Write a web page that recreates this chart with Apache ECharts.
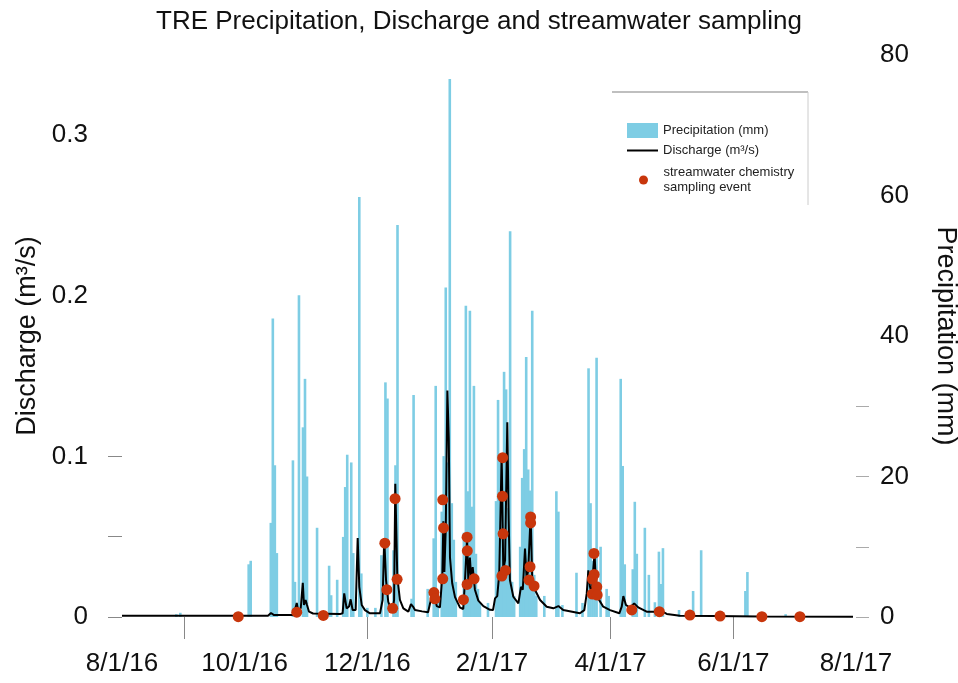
<!DOCTYPE html>
<html>
<head>
<meta charset="utf-8">
<title>TRE Precipitation, Discharge and streamwater sampling</title>
<script src="https://cdn.jsdelivr.net/npm/echarts@6/dist/echarts.min.js"></script>
<style>
    html, body { margin: 0; padding: 0; background: #fff; }
    #chart { width: 958px; height: 683px; }
</style>
</head>
<body>
<div id="chart"></div>
<script>
// days counted from 8/1/16
const precipDays = [27, 29, 63, 64, 74, 75, 76, 77, 85, 86, 88, 90, 91, 92, 97, 103, 104, 107,
    110, 111, 112, 114, 115, 118, 119, 122, 126, 129, 131, 132, 135, 136, 137, 144, 145, 152,
    155, 156, 157, 159, 160, 161, 162, 163, 164, 165, 166, 170, 171, 172, 173, 174, 175, 176,
    177, 178, 182, 186, 187, 188, 189, 190, 191, 192, 193, 194, 195, 198, 199, 200, 201, 202,
    203, 204, 205, 206, 210, 216, 217, 219, 226, 229, 232, 233, 234, 235, 236, 238, 241, 242,
    248, 249, 250, 254, 255, 256, 260, 262, 265, 267, 268, 269, 277, 284, 288, 310, 311, 330];
const precipMm = [0.4, 0.6, 7.5, 8, 13.4, 42.5, 21.6, 9.1, 22.3, 5, 45.8, 27, 33.9, 20, 12.7, 7.3, 3.1, 5.3,
    11.4, 18.5, 23.1, 22, 9.1, 59.8, 6.2, 1.3, 1.3, 8.8, 33.4, 31.1, 9.5, 21.6, 55.8, 2.6, 31.6, 4,
    11.2, 32.9, 3, 15, 22.9, 46.9, 22, 76.6, 16.2, 11, 5, 12, 44.3, 17.9, 43.6, 15.7, 32.9, 9,
    4, 2, 2, 16.5, 30.9, 22.9, 21, 34.9, 32.4, 15.5, 54.9, 5, 3, 10, 19.8, 23.9, 37, 21,
    18, 43.6, 6, 3, 3, 17.9, 15, 1.7, 6.3, 2, 35.4, 16.2, 8, 6, 36.9, 10, 4, 3,
    33.9, 21.5, 7.5, 6.8, 16.4, 9, 12.7, 6, 2.1, 9.3, 4.7, 9.8, 1, 3.7, 9.5, 3.7, 6.4, 0.4];

const flowDays = [0, 72.6, 74.1, 75.6, 85, 86, 86.9, 87.7, 88.9, 89.9, 90.5, 91.3, 92, 93, 95,
    108.4, 109.7, 110.5, 111.7, 112.9, 113.7, 114.7, 116.2, 117.2, 118, 119.2, 120.8, 123.3,
    128.3, 129.6, 130.4, 131.3, 132.4, 133.6, 134.6, 135.3, 135.9, 136.9, 138.2, 139.9, 142.4,
    143.7, 144.7, 145.7, 149.2, 152.2, 153.7, 154.8, 155.6, 156.5, 158.1, 159.3, 159.8, 160.3,
    161, 161.8, 162.5, 163.1, 164.2, 165.6, 168.1, 169.7, 170.6, 171.6, 172.2, 173, 173.7,
    174.4, 175.5, 177.2, 179.7, 183, 184.5, 185.5, 186.6, 187.6, 188.8, 189.6, 190.5, 191.6,
    192.3, 192.9, 194.6, 197.1, 198.4, 199.3, 200.4, 201.2, 202, 203.2, 204, 205.4, 207.9,
    211.2, 214.5, 217, 219.4, 227.7, 229.9, 231.1, 231.9, 232.7, 233.6, 234.3, 235, 235.7,
    236.8, 239.3, 242.7, 247.3, 248.5, 249.3, 250.6, 252.6, 254.7, 256.7, 260.9, 266, 267.2,
    268.5, 270.9, 277.5, 293.9, 317.3, 363.5];
const flowM3s = [0.0008, 0.0008, 0.0025, 0.0012, 0.0012, 0.0043, 0.0087, 0.0033, 0.0056, 0.0213, 0.0075, 0.0106, 0.0075, 0.0033, 0.0022,
    0.0018, 0.0023, 0.0147, 0.0054, 0.0065, 0.011, 0.0043, 0.0043, 0.0492, 0.0188, 0.0075, 0.0043, 0.0023,
    0.0023, 0.0106, 0.049, 0.023, 0.0095, 0.0054, 0.0043, 0.0106, 0.083, 0.025, 0.0106, 0.0054, 0.0033,
    0.008, 0.0065, 0.0043, 0.0035, 0.003, 0.0114, 0.017, 0.0124, 0.0068, 0.006, 0.026, 0.0596, 0.028,
    0.055, 0.141, 0.111, 0.037, 0.021, 0.0124, 0.0058, 0.005, 0.0236, 0.049, 0.023, 0.037, 0.023,
    0.031, 0.017, 0.0102, 0.0068, 0.0045, 0.0043, 0.0116, 0.013, 0.027, 0.1017, 0.029, 0.0354, 0.1213,
    0.06, 0.023, 0.0126, 0.0085, 0.0188, 0.017, 0.0427, 0.024, 0.029, 0.0634, 0.023, 0.0168, 0.0106,
    0.0064, 0.0054, 0.0068, 0.0043, 0.0023, 0.0043, 0.0147, 0.029, 0.019, 0.0147, 0.029, 0.0396, 0.019,
    0.0116, 0.0064, 0.0043, 0.0023, 0.0065, 0.013, 0.0075, 0.0058, 0.0085, 0.006, 0.0033, 0.0033, 0.0045,
    0.0035, 0.0019, 0.0008, 0.0006, 0.0003, 0.0002];

// streamwater chemistry sampling events
const sampleDays = [57.8, 86.9, 100.1, 130.7, 131.7, 134.6, 135.8, 136.8, 155.1, 155.6, 159.5, 159.9,
    159.5, 169.8, 171.6, 171.7, 171.6, 175.1, 189.3, 189.2, 189.5, 188.9, 190.7, 203.2, 203.2,
    202.9, 202.4, 204.9, 234.7, 234.8, 233.9, 236.1, 233.9, 236.3, 253.5, 267.2, 282.4, 297.4,
    318.2, 337.1];
const sampleM3s = [0.0002, 0.003, 0.001, 0.046, 0.017, 0.0054, 0.0737, 0.0235, 0.0152, 0.0113, 0.073, 0.0555,
    0.0238, 0.0108, 0.0497, 0.0412, 0.0203, 0.0238, 0.0992, 0.0752, 0.0518, 0.0255, 0.029, 0.0623, 0.0586,
    0.0313, 0.023, 0.0193, 0.0396, 0.0265, 0.0236, 0.0188, 0.0143, 0.0137, 0.0044, 0.0033, 0.0012, 0.0006,
    0.0002, 0.0002];

const xLabelDates = [[2016, 8, 1], [2016, 10, 1], [2016, 12, 1], [2017, 2, 1], [2017, 4, 1], [2017, 6, 1], [2017, 8, 1]];
const xTickDates = [[2016, 9, 1], [2016, 12, 1], [2017, 2, 1], [2017, 4, 1], [2017, 6, 1]];
const dischargeTicks = [0, 0.1, 0.2, 0.3];
const precipTicks = [0, 20, 40, 60, 80];

const START = new Date(2016, 7, 1).getTime();
const DAY = 86400000;

function toTime(d) {
    return START + d * DAY;
}
function ymd(a) {
    return new Date(a[0], a[1] - 1, a[2]).getTime();
}

document.addEventListener('DOMContentLoaded', function () {

    let chart = echarts.init(document.getElementById('chart'), null, { renderer: 'canvas' });
    const font = 'Liberation Sans, Arial, sans-serif';

    let precipData = precipDays.map((d, i) => [toTime(d), precipMm[i]]);
    let flowData = flowDays.map((d, i) => [toTime(d), flowM3s[i]]);
    let sampleData = sampleDays.map((d, i) => [toTime(d), sampleM3s[i]]);

    chart.setOption({
        animation: false,
        backgroundColor: '#fff',
        textStyle: { fontFamily: font },
        title: {
            text: 'TRE Precipitation, Discharge and streamwater sampling',
            left: 'center',
            top: 4,
            textStyle: { fontSize: 26, fontWeight: 'normal', color: '#111', fontFamily: font }
        },
        legend: [
            {
                data: [{ name: 'Precipitation (mm)', icon: 'rect' }],
                left: 627, top: 123, padding: 0,
                itemWidth: 31, itemHeight: 15,
                textStyle: { fontSize: 13, color: '#222' }
            },
            {
                data: [{ name: 'Discharge (m³/s)', icon: 'rect' }],
                left: 627, top: 144, padding: 0,
                itemWidth: 31, itemHeight: 2,
                textStyle: { fontSize: 13, color: '#222' }
            },
            {
                data: [{ name: 'sampling', icon: 'circle' }],
                left: 639, top: 165, padding: 0,
                itemWidth: 30, itemHeight: 9,
                formatter: () => 'streamwater chemistry\nsampling event',
                textStyle: { fontSize: 13, color: '#222', lineHeight: 15 }
            }
        ],
        graphic: [
            { type: 'line', shape: { x1: 612, y1: 92, x2: 808, y2: 92 }, style: { stroke: '#aaa', lineWidth: 1.5 } },
            { type: 'line', shape: { x1: 808, y1: 92, x2: 808, y2: 205 }, style: { stroke: '#ccc', lineWidth: 1 } }
        ],
        // keep the plot area fixed, names may sit near the edges
        grid: { left: 122, right: 102, top: 55, bottom: 66, outerBoundsMode: 'none' },
        xAxis: {
            // dates as timestamps on a value axis, so the label dates can be set directly
            type: 'value',
            min: ymd(xLabelDates[0]),
            max: ymd(xLabelDates[xLabelDates.length - 1]),
            axisLine: { show: false },
            splitLine: { show: false },
            axisTick: {
                show: true,
                customValues: xTickDates.map(ymd),
                length: 22,
                lineStyle: { color: '#888' }
            },
            axisLabel: {
                customValues: xLabelDates.map(ymd),
                margin: 34,
                fontSize: 26,
                color: '#111',
                hideOverlap: false,
                formatter: function (v) {
                    let d = new Date(v);
                    return (d.getMonth() + 1) + '/' + d.getDate() + '/' + String(d.getFullYear()).slice(2);
                }
            }
        },
        yAxis: [
            {
                type: 'value',
                min: 0,
                max: 0.35,
                name: 'Discharge (m³/s)',
                nameLocation: 'middle',
                nameGap: 78,
                nameRotate: 90,
                nameTextStyle: { fontSize: 27, color: '#111' },
                axisLine: { show: false },
                splitLine: { show: false },
                axisTick: { show: true, customValues: [0, 0.05, 0.1], length: 14, lineStyle: { color: '#888' } },
                axisLabel: { customValues: dischargeTicks, margin: 34, fontSize: 26, color: '#111' }
            },
            {
                type: 'value',
                min: 0,
                max: 80,
                position: 'right',
                name: 'Precipitation (mm)',
                nameLocation: 'middle',
                nameGap: 76,
                nameRotate: -90,
                nameTextStyle: { fontSize: 27, color: '#111' },
                axisLine: { show: false },
                splitLine: { show: false },
                axisTick: { show: true, customValues: [0, 10, 20, 30], length: 13, lineStyle: { color: '#aaa' } },
                axisLabel: { customValues: precipTicks, margin: 24, fontSize: 26, color: '#111' }
            }
        ],
        series: [
            {
                name: 'Precipitation (mm)',
                type: 'bar',
                yAxisIndex: 1,
                barWidth: 2.6,
                itemStyle: { color: '#7ecde4' },
                data: precipData,
                z: 1
            },
            {
                name: 'Discharge (m³/s)',
                type: 'line',
                yAxisIndex: 0,
                symbol: 'none',
                lineStyle: { color: '#000', width: 2 },
                itemStyle: { color: '#000' },
                data: flowData,
                z: 2
            },
            {
                name: 'sampling',
                type: 'scatter',
                yAxisIndex: 0,
                symbolSize: 11,
                itemStyle: { color: '#c8360c', opacity: 1 },
                data: sampleData,
                z: 3
            }
        ]
    });

});
</script>
</body>
</html>
